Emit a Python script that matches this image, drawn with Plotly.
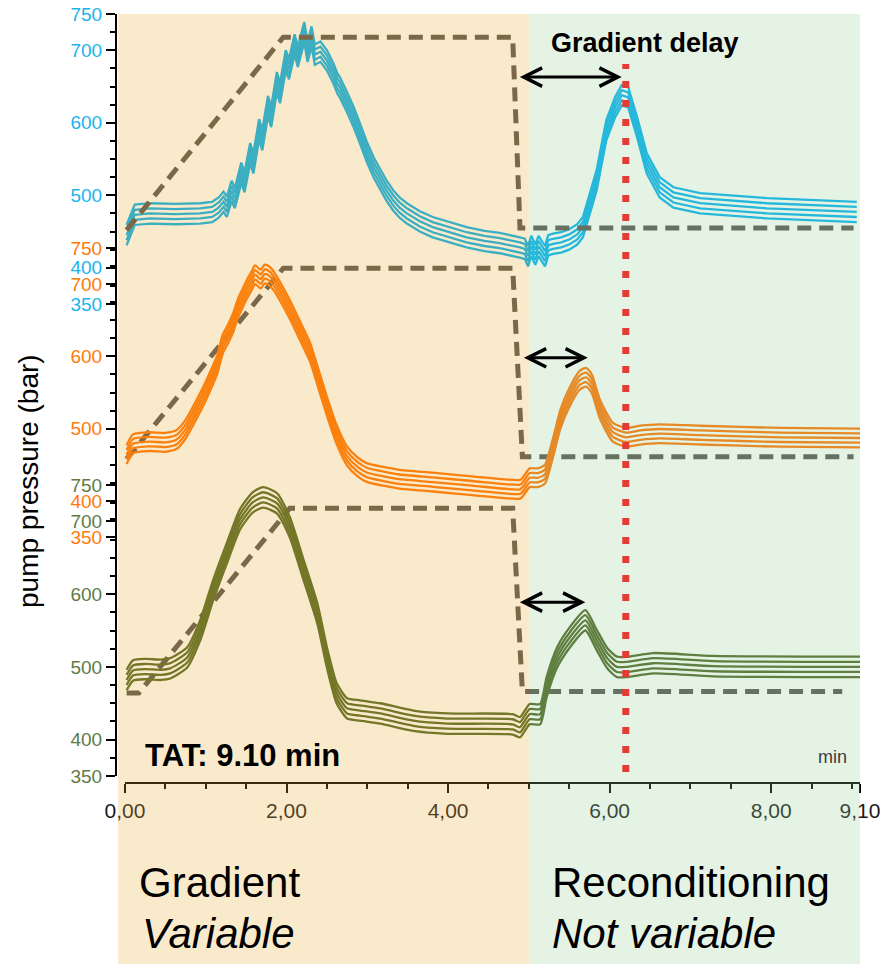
import plotly.graph_objects as go

W, H = 881, 966

# ---------------- data ----------------
x_tickvals = [0, 2, 4, 6, 8, 9.1]
x_ticktext = ["0,00", "2,00", "4,00", "6,00", "8,00", "9,10"]
x_minor = [0.5, 1, 1.5, 2.5, 3, 3.5, 4.5, 5, 5.5, 6.5, 7, 7.5, 8.5, 9]
y_tickvals = [350, 400, 500, 600, 700, 750]
y_minor = [375, 425, 450, 475, 525, 550, 575, 625, 650, 675, 725]

# top panel (blue) - upper trace of the bundle
cyan_t = [0.02, 0.12, 0.31, 0.62, 0.93, 1.08, 1.16, 1.22, 1.26, 1.32, 1.36, 1.44, 1.48, 1.55, 1.59,
          1.66, 1.70, 1.77, 1.81, 1.88, 1.92, 1.99, 2.03, 2.10, 2.14, 2.22, 2.26, 2.31, 2.35, 2.42,
          2.50, 2.58, 2.63, 2.66, 2.75, 2.83, 2.92, 3.00, 3.08, 3.16, 3.24, 3.32, 3.40, 3.49, 3.65,
          3.81, 4.00, 4.23, 4.45, 4.64, 4.89, 4.95, 4.99, 5.03, 5.08, 5.12, 5.20, 5.24, 5.30, 5.40,
          5.50, 5.60, 5.67, 5.75, 5.84, 5.90, 5.96, 6.07, 6.15, 6.23, 6.34, 6.46, 6.62, 6.79, 7.12,
          7.95, 9.06]
cyan_p = [459, 487, 489, 488, 489, 491, 497, 505, 498, 520, 510, 545, 532, 572, 558,
          605, 590, 637, 622, 670, 655, 700, 688, 722, 705, 739, 712, 733, 708, 712,
          700, 682, 668, 663, 642, 622, 596, 572, 552, 535, 520, 507, 497, 489, 478,
          470, 464, 456, 451, 448, 442, 440, 430, 444, 432, 444, 430, 445, 447, 449,
          453, 460, 470, 500, 535, 570, 604, 636, 652, 649, 608, 558, 525, 511, 503,
          496, 491]
cyan_offsets = [0, -7, -14, -21, -28]

# middle panel (orange)
orange_t = [0.02, 0.10, 0.30, 0.50, 0.64, 0.75, 0.84, 0.97, 1.08, 1.14, 1.21, 1.28, 1.34, 1.40, 1.45,
            1.51, 1.57, 1.61, 1.68, 1.73, 1.79, 1.85, 1.92, 2.04, 2.16, 2.29, 2.40, 2.50, 2.62, 2.75,
            2.88, 3.00, 3.20, 3.40, 3.81, 4.30, 4.89, 4.93, 5.01, 5.11, 5.20, 5.26, 5.33, 5.39, 5.51,
            5.63, 5.71, 5.78, 5.88, 6.04, 6.20, 6.38, 6.62, 7.12, 8.11, 9.10]
orange_p = [477, 492, 495, 494, 498, 512, 530, 558, 585, 601, 630, 645, 660, 680, 692,
            706, 718, 726, 720, 727, 724, 716, 703, 678, 650, 619, 580, 544, 505, 475,
            460, 452, 447, 443, 439, 434, 429, 433, 445, 445, 450, 470, 500, 526, 558,
            580, 584, 575, 540, 508, 501, 504, 506, 504, 501, 500]
orange_offsets = [0, -6.5, -13, -19.5, -26]

# bottom panel (olive)
olive_t = [0.02, 0.10, 0.25, 0.45, 0.56, 0.77, 0.93, 1.09, 1.26, 1.42, 1.58, 1.71, 1.88, 2.04, 2.20,
           2.38, 2.50, 2.62, 2.75, 2.91, 3.16, 3.57, 3.99, 4.80, 4.89, 4.95, 5.01, 5.14, 5.22, 5.35,
           5.51, 5.70, 5.84, 5.97, 6.09, 6.22, 6.54, 7.28, 9.10]
olive_p = [496, 509, 511, 510, 512, 527, 564, 619, 670, 716, 740, 747, 739, 706, 651,
           588, 527, 478, 457, 454, 450, 440, 436, 435, 431, 440, 449, 449, 486, 527,
           555, 578, 551, 526, 514, 514, 519, 515, 514]
olive_offsets = [0, -7, -14, -21, -28]

# gradient programmes (dashed)
grad_top_t = [0.02, 1.96, 4.80, 4.89, 9.02]
grad_top_p = [452, 718, 718, 455, 455]
grad_mid_t = [0.02, 1.96, 4.80, 4.92, 9.02]
grad_mid_p = [458, 722, 722, 461, 461]
grad_bot_t = [0.02, 0.17, 2.04, 4.80, 4.92, 8.88]
grad_bot_p = [464, 464, 718, 718, 466, 466]

gradient_end = 5.01      # min, end of gradient / start of reconditioning
run_end = 9.10
delay_mark = 6.20        # red dotted line
arrows = [  # (axis, x_start, x_end, pressure)
    ("y", 4.87, 6.15, 663),
    ("y2", 4.92, 5.73, 598),
    ("y3", 4.87, 5.70, 589),
]

# ---------------- styling ----------------
C_CYAN = "#00B0F0"
C_ORANGE = "#FF7300"
C_OLIVE = "#4C6424"
C_DASH = "#565250"
C_RED = "#FF0A14"
LBL_CYAN = "#19B5EC"
LBL_ORANGE = "#FF7A0A"
LBL_OLIVE = "#5E7B46"
FONT = "Liberation Sans, Arial, sans-serif"


def py(px):
    return 1 - px / H


fig = go.Figure()


def add_bundle(t, p, offsets, color, yax, shape, smooth=None):
    for o in offsets:
        line = dict(color=color, width=2.3, shape=shape)
        if smooth is not None:
            line["smoothing"] = smooth
        fig.add_trace(go.Scatter(x=t, y=[v + o for v in p], mode="lines", line=line,
                                 xaxis="x", yaxis=yax, hoverinfo="skip"))


def add_dash(t, p, yax):
    fig.add_trace(go.Scatter(x=t, y=p, mode="lines",
                             line=dict(color=C_DASH, width=5, dash="14px,8px"),
                             xaxis="x", yaxis=yax, hoverinfo="skip"))


add_bundle(cyan_t, cyan_p, cyan_offsets, C_CYAN, "y", "linear")
add_dash(grad_top_t, grad_top_p, "y")
add_dash(grad_mid_t, grad_mid_p, "y2")
add_bundle(orange_t, orange_p, orange_offsets, C_ORANGE, "y2", "spline", 0.6)
add_dash(grad_bot_t, grad_bot_p, "y3")
add_bundle(olive_t, olive_p, olive_offsets, C_OLIVE, "y3", "spline", 0.6)

yax_common = dict(
    range=[350, 750], tickmode="array", tickvals=y_tickvals, ticks="outside",
    ticklen=9, tickwidth=2, tickcolor="black", showline=True, linecolor="black",
    linewidth=2, showgrid=False, zeroline=False, anchor="x", fixedrange=True,
    minor=dict(tickmode="array", tickvals=y_minor, ticks="outside", ticklen=5,
               tickwidth=2, tickcolor="black", showgrid=False),
)

fig.update_layout(
    width=W, height=H,
    margin=dict(l=117, r=21, t=0, b=0, autoexpand=False),
    paper_bgcolor="white", plot_bgcolor="rgba(0,0,0,0)",
    showlegend=False,
    xaxis=dict(range=[-0.099, 9.1], domain=[0, 1], anchor="free", position=py(783),
               tickmode="array", tickvals=x_tickvals, ticktext=x_ticktext,
               ticks="outside", ticklen=9, tickwidth=1.5, tickcolor="black",
               showline=False, showgrid=False, zeroline=False, fixedrange=True,
               tickfont=dict(family=FONT, size=21, color="#1a1a1a"),
               minor=dict(tickmode="array", tickvals=x_minor, ticks="outside", ticklen=5,
                          tickwidth=1.5, tickcolor="black", showgrid=False)),
    yaxis=dict(domain=[py(304), py(14)], tickfont=dict(family=FONT, size=19, color=LBL_CYAN), **yax_common),
    yaxis2=dict(domain=[py(537), py(248)], tickfont=dict(family=FONT, size=19, color=LBL_ORANGE), **yax_common),
    yaxis3=dict(domain=[py(776), py(485)], tickfont=dict(family=FONT, size=19, color=LBL_OLIVE), **yax_common),
)

shapes = [
    # x axis line
    dict(type="line", xref="x", yref="paper", x0=0, x1=run_end, y0=py(783), y1=py(783),
         line=dict(color="black", width=2), layer="above"),
    # red dotted marker
    dict(type="line", xref="x", yref="paper", x0=delay_mark, x1=delay_mark, y0=py(772), y1=py(64),
         line=dict(color=C_RED, width=7, dash="7px,12px"), layer="above"),
    # translucent phase overlays
    dict(type="rect", xref="x", yref="paper", x0=-0.085, x1=gradient_end, y0=py(964), y1=py(14),
         fillcolor="rgba(234,172,52,0.25)", line=dict(width=0), layer="above"),
    dict(type="rect", xref="x", yref="paper", x0=gradient_end, x1=run_end, y0=py(964), y1=py(14),
         fillcolor="rgba(152,209,150,0.25)", line=dict(width=0), layer="above"),
]
fig.update_layout(shapes=shapes)

ann = []
for yax, xs, xe, pv in arrows:
    ann.append(dict(x=xe, y=pv, ax=xs, ay=pv, xref="x", yref=yax, axref="x", ayref=yax,
                    text="", showarrow=True, arrowside="end+start", arrowhead=5,
                    startarrowhead=5, arrowsize=1.2, startarrowsize=1.2, arrowwidth=3,
                    arrowcolor="black", standoff=0, startstandoff=0))

ann += [
    dict(x=6.44, y=py(43), xref="x", yref="paper", text="<b>Gradient delay</b>", showarrow=False,
         font=dict(family=FONT, size=27, color="black"), xanchor="center", yanchor="middle"),
    dict(x=(143 - 117) / 743, y=py(755), xref="paper", yref="paper", text="<b>TAT: 9.10 min</b>",
         showarrow=False, font=dict(family=FONT, size=31, color="black"), xanchor="left", yanchor="middle"),
    dict(x=8.76, y=py(757), xref="x", yref="paper", text="min", showarrow=False,
         font=dict(family=FONT, size=18, color="#3c3c3c"), xanchor="center", yanchor="middle"),
    dict(x=(29 - 117) / 743, y=py(481), xref="paper", yref="paper", text="pump pressure (bar)",
         showarrow=False, textangle=-90, font=dict(family=FONT, size=28, color="black"),
         xanchor="center", yanchor="middle"),
    dict(x=(137 - 117) / 743, y=py(882), xref="paper", yref="paper", text="Gradient",
         showarrow=False, font=dict(family=FONT, size=42, color="black"), xanchor="left", yanchor="middle"),
    dict(x=(140 - 117) / 743, y=py(933), xref="paper", yref="paper", text="<i>Variable</i>",
         showarrow=False, font=dict(family=FONT, size=42, color="black"), xanchor="left", yanchor="middle"),
    dict(x=(550 - 117) / 743, y=py(882), xref="paper", yref="paper", text="Reconditioning",
         showarrow=False, font=dict(family=FONT, size=42, color="black"), xanchor="left", yanchor="middle"),
    dict(x=(550 - 117) / 743, y=py(933), xref="paper", yref="paper", text="<i>Not variable</i>",
         showarrow=False, font=dict(family=FONT, size=42, color="black"), xanchor="left", yanchor="middle"),
]
fig.update_layout(annotations=ann)

fig.write_html("out.html")
